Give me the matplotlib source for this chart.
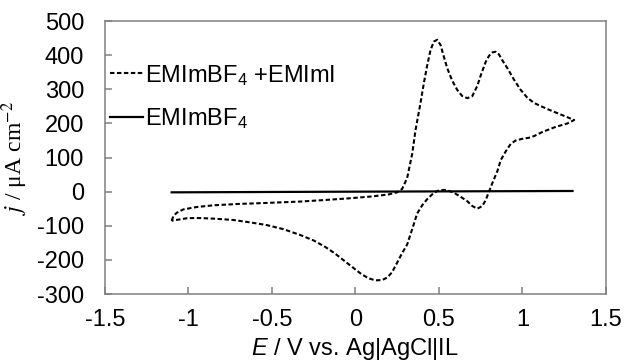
import matplotlib
matplotlib.use("Agg")
import matplotlib.pyplot as plt

# cyclic voltammogram, EMImBF4 + EMImI (dashed) and neat EMImBF4 (solid)
cv_E = [-1.10, -1.09, -1.07, -1.03, -0.95, -0.85, -0.70, -0.53, -0.33, -0.20,
        -0.05, 0.10, 0.20, 0.25, 0.28, 0.31, 0.34, 0.36, 0.39, 0.41,
        0.43, 0.45, 0.47, 0.49, 0.51, 0.53, 0.55, 0.58, 0.61, 0.64,
        0.67, 0.70, 0.73, 0.75, 0.78, 0.80, 0.82, 0.84, 0.86, 0.88,
        0.91, 0.95, 0.99, 1.03, 1.07, 1.10, 1.15, 1.19, 1.25, 1.31,
        1.27, 1.20, 1.12, 1.07, 1.04, 1.00, 0.96, 0.93, 0.90, 0.87,
        0.85, 0.82, 0.80, 0.78, 0.76, 0.73, 0.70, 0.67, 0.63, 0.59,
        0.55, 0.52, 0.49, 0.46, 0.43, 0.40, 0.37, 0.34, 0.31, 0.28,
        0.25, 0.22, 0.19, 0.16, 0.12, 0.08, 0.04, 0.00, -0.06, -0.12,
        -0.18, -0.25, -0.33, -0.43, -0.53, -0.63, -0.73, -0.85, -0.95, -1.01,
        -1.06, -1.10]
cv_j = [-85, -72, -62, -52, -45, -40, -36, -33, -29, -25,
        -20, -14, -8, -2, 8, 40, 110, 180, 260, 318,
        370, 415, 440, 445, 430, 395, 362, 325, 298, 280,
        274, 280, 310, 340, 380, 398, 408, 410, 402, 385,
        362, 328, 298, 275, 260, 253, 242, 234, 222, 210,
        200, 190, 175, 163, 158, 155, 150, 140, 118, 92,
        60, 25, 0, -25, -42, -50, -42, -28, -15, -3,
        4, 5, 2, -8, -22, -40, -64, -110, -155, -180,
        -208, -236, -252, -259, -260, -254, -243, -228, -205, -182,
        -162, -143, -127, -110, -98, -90, -83, -79, -77, -78,
        -82, -85]

base_E = [-1.1, 0.0, 1.3]
base_j = [-2, 0, 2]

xticks = [-1.5, -1.0, -0.5, 0.0, 0.5, 1.0, 1.5]
xticklabels = ["-1.5", "-1", "-0.5", "0", "0.5", "1", "1.5"]
yticks = [-300, -200, -100, 0, 100, 200, 300, 400, 500]

plt.rcParams["font.family"] = "Liberation Sans"
plt.rcParams["mathtext.fontset"] = "custom"
plt.rcParams["mathtext.rm"] = "Liberation Sans"
plt.rcParams["mathtext.it"] = "Liberation Sans:italic"
plt.rcParams["lines.scale_dashes"] = False

fs = 17
fig = plt.figure(figsize=(6.24, 3.63), dpi=100)
ax = fig.add_axes([0.168, 0.190, 0.803, 0.752])

ax.plot(cv_E, cv_j, color="black", lw=1.5, linestyle=(0, (3.2, 1.8)),
        label="EMImBF$_4$ +EMImI")
ax.plot(base_E, base_j, color="black", lw=1.6, label="EMImBF$_4$")

ax.set_xlim(-1.5, 1.5)
ax.set_ylim(-300, 500)
ax.set_xticks(xticks)
ax.set_xticklabels(xticklabels)
ax.set_yticks(yticks)
ax.set_yticklabels([str(v) for v in yticks])

for s in ax.spines.values():
    s.set_color("#808080")
    s.set_linewidth(1.1)
ax.tick_params(direction="in", length=5, width=1.1, color="#808080",
               labelsize=fs, top=False, right=False)
ax.tick_params(axis="x", pad=11)
ax.tick_params(axis="y", pad=15)

ax.set_xlabel("$E$ / V vs. Ag|AgCl|IL", fontsize=fs)
ax.xaxis.set_label_coords(0.5, -0.155)
ax.set_ylabel("$j$ / μA cm$^{-2}$", fontsize=fs, family="Liberation Serif",
              math_fontfamily="stix")
ax.yaxis.set_label_coords(-0.15, 0.5)

leg = ax.legend(loc="upper left", bbox_to_anchor=(0.0, 0.865), frameon=False,
                fontsize=fs, handlelength=1.4, handletextpad=0.1,
                labelspacing=0.8, borderaxespad=0.2, borderpad=0.0)

fig.savefig("out.png", dpi=100)
